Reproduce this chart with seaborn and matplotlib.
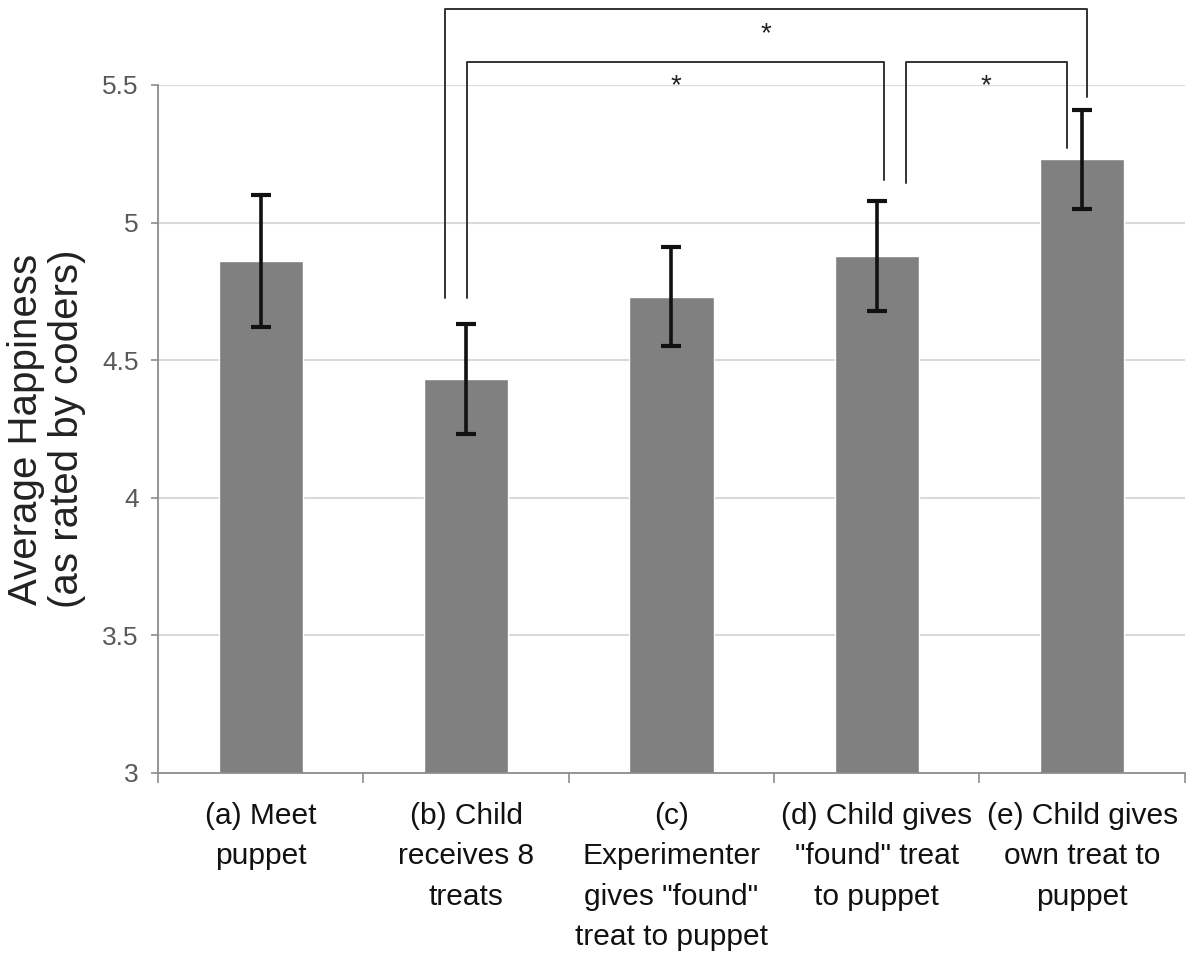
import matplotlib
matplotlib.use("Agg")
import matplotlib.pyplot as plt
import seaborn as sns
import pandas as pd
import numpy as np

# ---- data ----
categories = ["(a) Meet\npuppet",
              "(b) Child\nreceives 8\ntreats",
              "(c)\nExperimenter\ngives \"found\"\ntreat to puppet",
              "(d) Child gives\n\"found\" treat\nto puppet",
              "(e) Child gives\nown treat to\npuppet"]
means = [4.86, 4.43, 4.73, 4.88, 5.23]
errors = [0.24, 0.20, 0.18, 0.20, 0.18]
y_ticks = [3, 3.5, 4, 4.5, 5, 5.5]
y_tick_labels = ["3", "3.5", "4", "4.5", "5", "5.5"]
y_label = "Average Happiness\n(as rated by coders)"

# significance brackets: (left cat, left offset, right cat, right offset, top, left-leg bottom, right-leg bottom, label)
brackets = [
    (1, -0.105, 4, 0.025, 5.776, 4.726, 5.456, "*"),
    (1, 0.005, 3, 0.036, 5.584, 4.726, 5.155, "*"),
    (3, 0.14, 4, -0.074, 5.584, 5.144, 5.271, "*"),
]

sns.set_theme(style="white")
plt.rcParams['font.family'] = ['Liberation Sans', 'DejaVu Sans']

fig = plt.figure(figsize=(11.92, 9.57), dpi=100)
ax = fig.add_axes([0.1326, 0.1923, 0.994 - 0.1326, 0.9112 - 0.1923])

df = pd.DataFrame({"cat": categories, "mean": means})
sns.barplot(data=df, x="cat", y="mean", color="#808080", saturation=1,
            width=0.41, errorbar=None, ax=ax, zorder=2)
xs = np.arange(len(categories))
ax.errorbar(xs, means, yerr=errors, fmt="none", ecolor="#111111",
            elinewidth=2.6, capsize=7, capthick=3, zorder=3)

ax.set_ylim(3, 5.5)
ax.set_xlim(-0.5, len(categories) - 0.5)
ax.set_yticks(y_ticks)
ax.set_yticklabels(y_tick_labels)
ax.tick_params(axis="y", labelsize=19, labelcolor="#595959", length=5,
               width=1.2, color="#8c8c8c", pad=9, left=True)
ax.set_xticks(xs)
ax.set_xticklabels(categories, fontsize=21.5, color="#111111", linespacing=1.56)
ax.tick_params(axis="x", which="major", length=0, pad=21)
ax.set_xticks(np.arange(len(categories) + 1) - 0.5, minor=True)
ax.tick_params(axis="x", which="minor", length=7, width=1.2,
               color="#8c8c8c", bottom=True)
ax.set_xlabel("")

for yv in y_ticks[1:]:
    ax.axhline(yv, color="#d9d9d9", lw=1.5, zorder=0)

for s in ["top", "right"]:
    ax.spines[s].set_visible(False)
for s in ["left", "bottom"]:
    ax.spines[s].set_color("#8c8c8c")
    ax.spines[s].set_linewidth(1.3)

ax.set_ylabel(y_label, fontsize=29, color="#222222", linespacing=1.12)
ax.yaxis.set_label_coords(-0.070, 0.5)

for lc, lo, rc, ro, top, lb, rb, lab in brackets:
    x0 = lc + lo
    x1 = rc + ro
    ax.plot([x0, x0, x1, x1], [lb, top, top, rb], color="#333333",
            lw=1.4, clip_on=False, zorder=4)
    ax.text((x0 + x1) / 2, top - 0.09, lab, ha="center", va="center",
            fontsize=20, color="#222222", clip_on=False)

fig.savefig("out.png", dpi=100, facecolor="white")
